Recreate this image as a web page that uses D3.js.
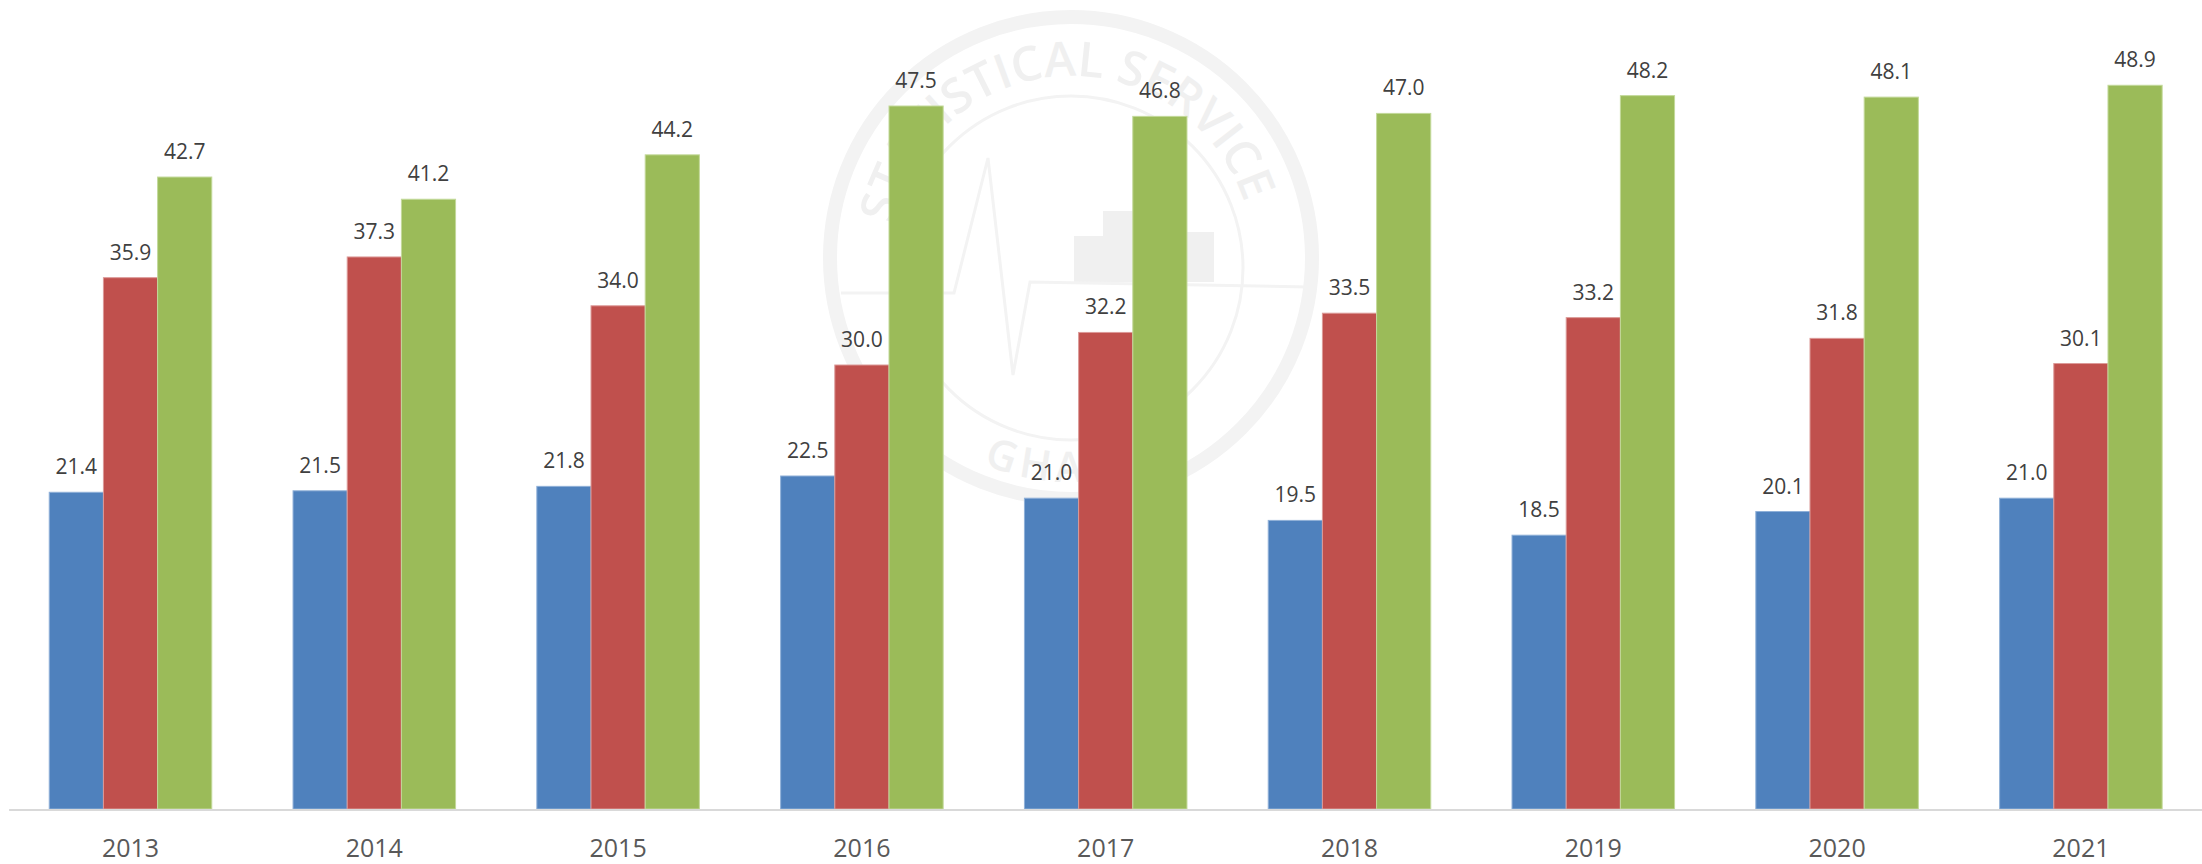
<!DOCTYPE html>
<html>
<head>
<meta charset="utf-8">
<script src="https://cdn.jsdelivr.net/npm/d3@7"></script>
<style>
  html, body { margin: 0; padding: 0; background: #fff; }
  svg { display: block; }
  text { font-family: "Open Sans", sans-serif; }
</style>
</head>
<body>
<svg id="chart" width="2202" height="864"></svg>
<script>
'use strict'
const years = ['2013', '2014', '2015', '2016', '2017', '2018', '2019', '2020', '2021']
const seriesNames = ['blue', 'red', 'green']
const blueValues = [21.4, 21.5, 21.8, 22.5, 21.0, 19.5, 18.5, 20.1, 21.0]
const redValues = [35.9, 37.3, 34.0, 30.0, 32.2, 33.5, 33.2, 31.8, 30.1]
const greenValues = [42.7, 41.2, 44.2, 47.5, 46.8, 47.0, 48.2, 48.1, 48.9]
const seriesValues = [blueValues, redValues, greenValues]
const colors = ['#4f81bd', '#c0504d', '#9bbb59']
const strokes = ['#8fb0d8', '#dc9a98', '#c3d99a']

const svg = d3.select('#chart')

// x0 groups the years, x1 places the three bars inside a group
const x0 = d3.scaleBand().domain(years).range([8.6, 2202.8]).paddingInner(0.3333).paddingOuter(0.1667)
const x1 = d3.scaleBand().domain(seriesNames).range([0, x0.bandwidth()])
const y = d3.scaleLinear().domain([0, 50]).range([809, 69])

// watermark sits behind the bars
const wm = svg.append('g').attr('class', 'watermark')
const wmColor = '#f3f3f3'
const cx = 1071, cy = 258

// arc path between two angles measured clockwise from the top of the seal
const arcPath = function(r, from, to, sweep) {
  const pt = (a) => [cx + r * Math.sin(a * Math.PI / 180), cy - r * Math.cos(a * Math.PI / 180)]
  return 'M' + pt(from) + ' A' + r + ',' + r + ' 0 0 ' + sweep + ' ' + pt(to)
}

wm.append('circle').attr('cx', cx).attr('cy', cy).attr('r', 241)
  .attr('fill', 'none').attr('stroke', wmColor).attr('stroke-width', 14)
wm.append('circle').attr('cx', cx).attr('cy', 268).attr('r', 172)
  .attr('fill', 'none').attr('stroke', wmColor).attr('stroke-width', 3)
wm.append('path')
  .attr('d', 'M1074,282 V236 H1103 V211 H1144 V232 H1214 V282 Z')
  .attr('fill', '#f0f0f0')
wm.append('path')
  .attr('d', 'M841,293 L954,293 L988,158 L1013,375 L1030,282 L1308,287')
  .attr('fill', 'none').attr('stroke', wmColor).attr('stroke-width', 3)

wm.append('path').attr('id', 'wmTop')
  .attr('d', arcPath(182, -88, 81, 1)).attr('fill', 'none')
wm.append('text').attr('font-size', 48).attr('fill', '#f0f0f0').attr('font-weight', 600)
  .append('textPath').attr('href', '#wmTop').attr('startOffset', '50%').attr('text-anchor', 'middle')
  .text('STATISTICAL SERVICE')
wm.append('path').attr('id', 'wmBottom')
  .attr('d', arcPath(224, -90, 90, 0)).attr('fill', 'none')
wm.append('text').attr('font-size', 42).attr('fill', '#f0f0f0').attr('font-weight', 600)
  .attr('letter-spacing', 6)
  .append('textPath').attr('href', '#wmBottom').attr('startOffset', '50%').attr('text-anchor', 'middle')
  .text('GHANA')

const groups = svg.append('g').selectAll('g')
  .data(years)
  .enter().append('g')
  .attr('transform', (d) => 'translate(' + x0(d) + ',0)')

seriesNames.forEach((name, s) => {
  groups.append('rect')
    .attr('x', x1(name))
    .attr('y', (d, i) => y(seriesValues[s][i]))
    .attr('width', x1.bandwidth())
    .attr('height', (d, i) => y(0) - y(seriesValues[s][i]))
    .attr('fill', colors[s])
    .attr('stroke', strokes[s])
    .attr('stroke-width', 1)

  groups.append('text')
    .attr('x', x1(name) + x1.bandwidth() / 2)
    .attr('y', (d, i) => y(seriesValues[s][i]) - 18)
    .attr('text-anchor', 'middle')
    .attr('font-size', 21)
    .attr('fill', '#404040')
    .text((d, i) => seriesValues[s][i].toFixed(1))
})

// category axis, light line and no ticks
const axis = svg.append('g')
  .attr('transform', 'translate(0,' + (y(0) + 0.5) + ')')
  .call(d3.axisBottom(x0).tickSize(0).tickPadding(29.5))
axis.select('.domain').attr('stroke', '#d9d9d9').attr('stroke-width', 2)
axis.selectAll('text')
  .attr('font-size', 25)
  .attr('fill', '#595959')
  .attr('font-family', '"Open Sans", sans-serif')
</script>
</body>
</html>
